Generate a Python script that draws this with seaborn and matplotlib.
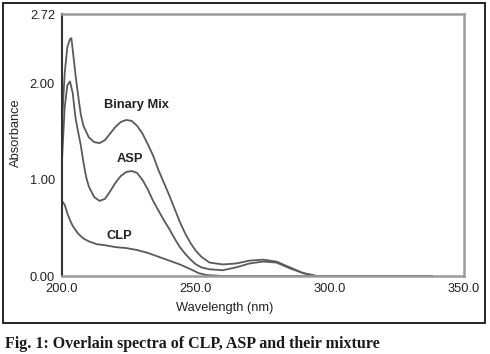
import pandas as pd
import seaborn as sns
import matplotlib.pyplot as plt
from matplotlib.patches import Rectangle

# absorbance spectra
mix_wl = [200, 201, 202, 203, 203.5, 204, 205, 206, 207, 208, 210, 212, 214, 216, 218, 220, 222, 224,
          226, 228, 230, 232, 234, 236, 238, 240, 242, 244, 246, 248, 250, 252, 255, 260, 265, 270,
          275, 280, 285, 290, 295, 300, 338]
mix_abs = [1.60, 2.10, 2.38, 2.46, 2.47, 2.35, 2.10, 1.88, 1.68, 1.56, 1.44, 1.39, 1.38, 1.41, 1.48, 1.55, 1.60, 1.62,
           1.61, 1.56, 1.48, 1.37, 1.25, 1.10, 0.97, 0.84, 0.70, 0.56, 0.44, 0.34, 0.26, 0.20, 0.14, 0.12, 0.13, 0.16,
           0.17, 0.15, 0.09, 0.03, 0.0, 0.0, 0.0]

asp_wl = [200, 201, 202, 203, 204, 205, 206, 207, 208, 209, 210, 212, 214, 216, 218, 220, 222, 224, 226,
          228, 230, 232, 234, 236, 238, 240, 242, 244, 246, 248, 250, 252, 255, 260, 265, 270, 275,
          280, 285, 290, 295, 300, 338]
asp_abs = [1.20, 1.75, 1.98, 2.02, 1.90, 1.65, 1.50, 1.36, 1.18, 1.03, 0.93, 0.82, 0.78, 0.80, 0.88, 0.97, 1.04, 1.08, 1.09,
           1.07, 1.00, 0.90, 0.78, 0.68, 0.58, 0.49, 0.39, 0.30, 0.23, 0.17, 0.12, 0.09, 0.07, 0.06, 0.09, 0.13, 0.15,
           0.14, 0.08, 0.03, 0.0, 0.0, 0.0]

clp_wl = [200, 201, 202, 203, 204, 205, 206, 208, 210, 213, 216, 220, 224, 228, 232, 236, 240, 244, 248,
          251, 254, 260, 300, 338]
clp_abs = [0.78, 0.74, 0.65, 0.58, 0.52, 0.48, 0.44, 0.39, 0.36, 0.33, 0.32, 0.30, 0.29, 0.27, 0.24, 0.20, 0.16, 0.12, 0.07,
           0.03, 0.01, 0.0, 0.0, 0.0]

series_names = ["Binary Mix", "ASP", "CLP"]
label_wl = [227.6, 225.4, 221.6]
label_abs = [1.78, 1.21, 0.42]

y_ticks = [0.0, 1.0, 2.0, 2.72]
x_ticks = [200, 250, 300, 350]

frames = []
for name, wl, ab in zip(series_names, [mix_wl, asp_wl, clp_wl], [mix_abs, asp_abs, clp_abs]):
    frames.append(pd.DataFrame({"wavelength": wl, "absorbance": ab, "series": name}))
data = pd.concat(frames, ignore_index=True)

sns.set_style("white")
plt.rcParams['font.family'] = ['Liberation Sans', 'DejaVu Sans']
fs = 9.3

fig = plt.figure(figsize=(4.9, 3.54), dpi=100)
ax = fig.add_axes([0.1265, 0.2203, 0.8204, 0.7401])

sns.lineplot(data=data, x="wavelength", y="absorbance", hue="series", sort=False, estimator=None,
             palette=["#5a5a5a"] * 3, linewidth=1.3, legend=False, ax=ax)

for name, x, y in zip(series_names, label_wl, label_abs):
    ax.text(x, y, name, ha="center", va="center", fontsize=fs, fontweight="bold", color="#222222")

ax.set_xlim(200, 350)
ax.set_ylim(0, 2.72)
ax.set_xticks(x_ticks)
ax.set_xticklabels([f"{t:.1f}" for t in x_ticks], fontsize=fs, color="#222222")
ax.set_yticks(y_ticks)
ax.set_yticklabels([f"{t:.2f}" for t in y_ticks], fontsize=fs, color="#222222")
ax.tick_params(axis="x", direction="in", length=4, pad=5, color="#555555")
ax.tick_params(axis="y", direction="out", length=3, pad=2, color="#555555")

ax.set_xlabel("Wavelength (nm)", fontsize=fs, color="#222222")
ax.set_ylabel("Absorbance", fontsize=fs, color="#222222")
ax.xaxis.set_label_coords(0.405, -0.1)
ax.yaxis.set_label_coords(-0.1, 0.546)

ax.spines["left"].set_color("#333333")
ax.spines["left"].set_linewidth(1.5)
for side in ["top", "right", "bottom"]:
    ax.spines[side].set_color("#9a9a9a")
    ax.spines[side].set_linewidth(1.8)

# outer frame and caption
fig.patches.append(Rectangle((0.006, 0.0876), 0.984, 0.904, transform=fig.transFigure,
                             fill=False, edgecolor="black", linewidth=1.2))
fig.text(0.01, 0.029, "Fig. 1: Overlain spectra of CLP, ASP and their mixture", va="center",
         fontsize=11.5, fontweight="bold", family=["Liberation Serif", "DejaVu Serif"], color="#1a1a1a")

fig.savefig("out.png", dpi=100)
